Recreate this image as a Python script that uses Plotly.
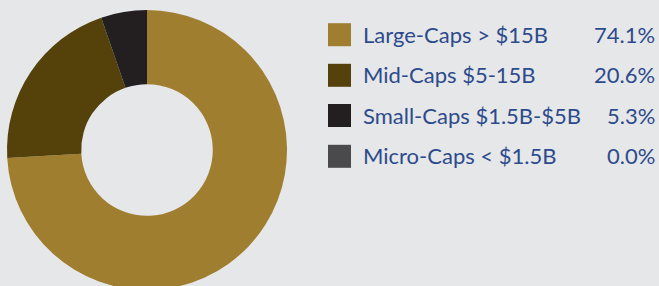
import plotly.graph_objects as go

W, H = 659, 294  # bottom of the donut runs past the 286px window

labels = ["Large-Caps > $15B", "Mid-Caps $5-15B", "Small-Caps $1.5B-$5B", "Micro-Caps < $1.5B"]
values = [74.1, 20.6, 5.3, 0.0]
colors = ["#A07E30", "#54420A", "#231F20", "#4A4A4D"]

BG = "#E6E7E9"
TEXT = "#2D4B8C"
FONT = "Lato"

# pie geometry (pixels)
cx, cy, r = 147, 150, 140

fig = go.Figure()
fig.add_trace(go.Pie(
    labels=labels, values=values, hole=0.47,
    marker=dict(colors=colors, line=dict(width=0)),
    sort=False, direction="clockwise", rotation=0,
    textinfo="none", hoverinfo="label+percent", showlegend=False,
    domain=dict(x=[(cx - r) / W, (cx + r) / W], y=[(H - cy - r) / H, (H - cy + r) / H]),
))

row_y = [34.7, 75.3, 115.5, 156.3]
sq = 23
for lab, val, col, yy in zip(labels, values, colors, row_y):
    fig.add_shape(type="rect", xref="paper", yref="paper",
                  x0=328 / W, x1=(328 + sq) / W,
                  y0=1 - (yy + sq / 2) / H, y1=1 - (yy - sq / 2) / H,
                  fillcolor=col, line=dict(width=0))
    fig.add_annotation(x=361 / W, y=1 - (yy - 0.5) / H, xref="paper", yref="paper",
                       text=lab, showarrow=False, xanchor="left", yanchor="middle",
                       font=dict(family=FONT, size=22, color=TEXT))
    fig.add_annotation(x=657 / W, y=1 - (yy - 0.5) / H, xref="paper", yref="paper",
                       text=f"{val:.1f}%", showarrow=False, xanchor="right", yanchor="middle",
                       font=dict(family=FONT, size=22, color=TEXT))

fig.update_layout(
    width=W, height=H, margin=dict(l=0, r=0, t=0, b=0),
    paper_bgcolor=BG, plot_bgcolor=BG,
)
fig.write_html(
    "out.html",
    config={"displayModeBar": False},
    post_script="document.body.style.margin='0';document.documentElement.style.overflow='hidden';document.body.style.overflow='hidden';document.body.style.background='%s';" % BG,
)
